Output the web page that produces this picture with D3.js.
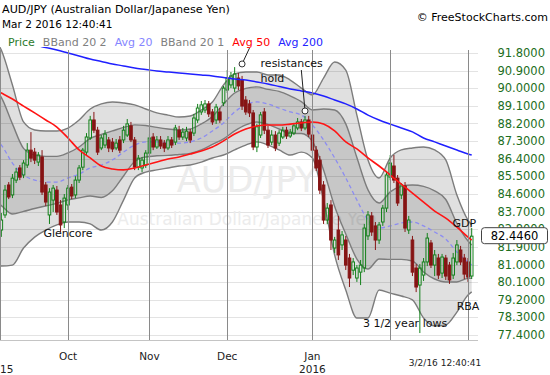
<!DOCTYPE html>
<html>
<head>
<meta charset="utf-8">
<script src="https://cdnjs.cloudflare.com/ajax/libs/d3/7.8.5/d3.min.js"></script>
<style>
  body { margin: 0; background: #fff; }
  svg { display: block; font-family: "DejaVu Sans", Verdana, sans-serif; }
</style>
</head>
<body>
<div id="chart"></div>
<script>
/* AUD/JPY daily candles, Bollinger bands and moving averages */

// First and last trading sessions on the chart
const firstSession = "2015-09-01";
const lastSession = "2016-03-02";
const firstCandle = "2015-09-07";

// Daily candles from Sep 7 2015 to Mar 2 2016
const opens = [
  82.76, 83.53, 85.06, 84.55, 85.31, 85.93, 85.57, 86.08, 86.84, 86.74,
  86.23, 86.49, 85.06, 83.53, 84.29, 84.80, 84.04, 83.17, 84.04, 84.95,
  84.55, 85.31, 85.97, 86.74, 87.46, 88.38, 87.86, 86.95, 87.10, 87.36,
  87.25, 86.95, 87.36, 87.36, 87.61, 88.08, 87.36, 85.97, 85.93, 86.08,
  86.69, 87.51, 87.00, 87.36, 87.20, 86.95, 87.36, 87.25, 87.86, 87.51,
  87.46, 87.76, 87.71, 88.38, 88.79, 88.89, 89.20, 88.79, 88.38, 88.79,
  89.25, 89.91, 90.17, 90.01, 90.52, 90.42, 89.40, 89.20, 88.74, 87.00,
  87.61, 88.79, 87.86, 87.25, 87.61, 87.20, 87.51, 87.86, 87.56, 87.71,
  87.97, 88.28, 87.97, 88.38, 87.61, 86.84, 86.33, 85.06, 83.27, 84.04,
  81.84, 82.76, 82.00, 82.25, 81.33, 80.71, 80.31, 80.61, 80.82, 82.46,
  83.48, 82.97, 82.25, 83.17, 83.88, 85.46, 86.03, 85.41, 84.55, 85.01,
  82.76, 82.25, 80.82, 79.95, 80.46, 81.13, 82.10, 80.97, 81.33, 80.56,
  81.33, 80.97, 80.46, 81.13, 81.74, 81.33, 81.13, 80.41
];
const highs = [
  83.63, 85.06, 85.21, 85.62, 85.93, 86.08, 86.33, 87.20, 87.76, 86.95,
  86.74, 86.84, 85.21, 84.90, 85.06, 85.01, 84.29, 84.60, 85.06, 85.11,
  85.51, 86.08, 86.95, 87.71, 88.59, 88.79, 88.03, 87.61, 87.86, 87.51,
  87.46, 87.41, 87.56, 88.08, 88.43, 88.28, 87.51, 86.59, 86.49, 86.84,
  87.66, 87.71, 87.56, 87.56, 87.36, 87.56, 87.51, 88.13, 88.08, 87.97,
  88.03, 87.92, 88.69, 89.20, 89.35, 89.40, 89.35, 88.94, 89.20, 88.99,
  90.12, 90.93, 90.83, 91.08, 90.78, 90.63, 89.60, 89.40, 88.89, 88.18,
  88.79, 88.99, 88.08, 87.86, 87.81, 87.86, 88.03, 88.03, 87.92, 88.23,
  88.48, 88.43, 88.59, 88.59, 87.81, 87.05, 86.54, 85.26, 84.14, 84.29,
  82.41, 83.48, 82.71, 82.46, 81.54, 81.33, 80.97, 81.23, 83.07, 83.73,
  83.68, 83.17, 83.17, 84.04, 85.77, 86.59, 86.59, 85.57, 85.16, 85.21,
  83.48, 82.46, 81.02, 81.02, 81.33, 82.61, 82.25, 81.74, 81.54, 81.54,
  81.49, 81.13, 81.59, 82.25, 81.95, 81.54, 81.33, 82.86
];
const lows = [
  82.41, 83.38, 84.34, 84.39, 85.16, 85.31, 85.41, 85.93, 86.23, 86.13,
  86.03, 84.55, 83.99, 83.07, 83.68, 83.53, 82.66, 82.86, 83.78, 84.34,
  84.39, 85.16, 85.82, 86.59, 87.36, 87.71, 86.59, 86.84, 86.95, 86.74,
  86.74, 86.84, 86.69, 87.20, 87.51, 87.25, 85.82, 85.82, 85.72, 85.93,
  86.54, 86.84, 86.90, 86.90, 86.74, 86.84, 86.95, 87.10, 87.36, 87.36,
  87.30, 87.20, 87.56, 88.23, 88.64, 88.74, 88.53, 88.13, 88.18, 88.23,
  89.09, 89.76, 90.01, 89.81, 89.91, 88.89, 88.64, 88.53, 86.84, 86.74,
  87.46, 87.66, 86.95, 87.10, 86.79, 87.05, 87.41, 87.41, 87.46, 87.61,
  87.86, 87.81, 87.86, 87.51, 86.69, 85.77, 84.60, 83.07, 83.07, 81.74,
  81.59, 81.23, 81.74, 80.72, 79.85, 80.46, 80.11, 79.95, 80.61, 82.25,
  82.46, 81.74, 82.05, 82.97, 83.68, 85.31, 85.16, 83.99, 84.34, 82.66,
  82.56, 80.41, 79.59, 77.50, 80.16, 80.92, 80.82, 80.41, 80.26, 80.31,
  80.21, 80.01, 80.26, 80.97, 80.97, 80.26, 80.11, 80.26
];
const closes = [
  83.27, 84.80, 84.45, 85.41, 85.72, 85.46, 86.18, 86.84, 86.43, 86.33,
  86.59, 84.70, 84.19, 84.70, 84.90, 83.68, 83.02, 84.39, 84.90, 84.50,
  85.31, 85.93, 86.84, 87.51, 88.38, 87.86, 86.74, 87.46, 87.66, 86.95,
  86.90, 87.20, 86.84, 87.86, 88.18, 87.36, 85.97, 86.43, 86.33, 86.69,
  87.46, 87.00, 87.36, 87.05, 86.95, 87.36, 87.10, 87.97, 87.51, 87.76,
  87.81, 87.36, 88.48, 88.99, 89.15, 89.20, 88.69, 88.28, 89.04, 88.38,
  90.01, 90.52, 90.63, 90.73, 90.12, 89.09, 88.79, 88.74, 87.00, 88.03,
  88.64, 87.86, 87.10, 87.61, 86.95, 87.71, 87.86, 87.56, 87.76, 88.08,
  88.28, 87.97, 88.38, 87.66, 86.84, 85.93, 84.80, 83.27, 83.88, 82.25,
  82.25, 81.49, 82.51, 80.97, 80.31, 81.13, 80.82, 80.97, 82.86, 83.53,
  82.66, 82.25, 83.02, 83.88, 85.57, 86.18, 85.31, 84.14, 85.06, 82.86,
  83.27, 80.61, 79.85, 80.82, 81.13, 82.35, 80.97, 81.49, 80.46, 81.38,
  80.41, 80.21, 81.33, 82.00, 81.13, 80.51, 80.36, 82.446
];

// Indicator readings, sampled every third session
const bandDates = [
  "2015-09-02", "2015-09-07", "2015-09-10", "2015-09-15", "2015-09-18", "2015-09-23", "2015-09-28",
  "2015-10-01", "2015-10-06", "2015-10-09", "2015-10-14", "2015-10-19", "2015-10-22", "2015-10-27", "2015-10-30",
  "2015-11-04", "2015-11-09", "2015-11-12", "2015-11-17", "2015-11-20", "2015-11-25", "2015-11-30",
  "2015-12-03", "2015-12-08", "2015-12-11", "2015-12-16", "2015-12-21", "2015-12-24", "2015-12-29",
  "2016-01-01", "2016-01-06", "2016-01-11", "2016-01-14", "2016-01-19", "2016-01-22", "2016-01-27",
  "2016-02-01", "2016-02-04", "2016-02-09", "2016-02-12", "2016-02-17", "2016-02-22", "2016-02-25",
  "2016-03-01", "2016-03-02"
];
const avg200 = [
  92.72, 92.62, 92.46, 92.31, 92.21, 92.08, 91.95,
  91.80, 91.65, 91.49, 91.37, 91.24, 91.14, 91.03, 90.96,
  90.88, 90.83, 90.78, 90.73, 90.68, 90.63, 90.55,
  90.47, 90.42, 90.32, 90.22, 90.09, 89.96, 89.86,
  89.76, 89.60, 89.40, 89.20, 88.94, 88.63, 88.38,
  88.17, 87.97, 87.77, 87.46, 87.26, 87.05, 86.85,
  86.64, 86.59
];
const avg50 = [
  90.06, 89.76, 89.45, 89.09, 88.74, 88.38, 88.02,
  87.46, 86.85, 86.44, 86.03, 85.88, 85.83, 85.93, 86.08,
  86.23, 86.39, 86.49, 86.64, 86.80, 87.00, 87.31,
  87.66, 87.92, 88.07, 88.12, 88.12, 88.17, 88.23,
  88.28, 88.17, 87.82, 87.26, 86.90, 86.44, 86.03,
  85.57, 85.11, 84.65, 84.19, 83.73, 83.37, 82.91,
  82.40, 82.25
];
const avg20 = [
  87.61, 87.10, 86.18, 85.57, 85.31, 85.21, 85.21,
  85.42, 85.62, 85.93, 86.08, 86.34, 86.74, 87.10, 87.26,
  87.26, 87.20, 87.20, 87.26, 87.46, 87.82, 88.23,
  88.79, 89.15, 89.30, 89.20, 88.99, 88.79, 88.63,
  88.12, 87.36, 86.44, 85.42, 84.29, 83.27, 82.86,
  82.97, 83.12, 83.17, 82.97, 82.66, 82.30, 81.64,
  81.13, 80.97
];
const bb2Upper = [
  92.72, 91.95, 90.17, 88.28, 87.87, 87.82, 87.82,
  87.97, 88.38, 88.94, 89.20, 89.30, 89.25, 89.15, 88.94,
  88.74, 88.63, 88.53, 88.58, 88.89, 89.30, 90.17,
  90.73, 90.83, 90.83, 90.68, 90.68, 90.42, 90.01,
  89.66, 90.52, 91.34, 90.93, 88.63, 86.34, 85.42,
  86.44, 86.85, 86.95, 87.00, 86.85, 86.34, 84.55,
  83.27, 83.02
];
const bb2Lower = [
  81.13, 80.92, 80.97, 81.84, 82.40, 82.76, 83.02,
  83.17, 83.17, 83.07, 82.76, 83.17, 84.29, 85.42, 85.72,
  85.83, 85.93, 86.03, 86.08, 86.23, 86.44, 86.59,
  86.85, 87.10, 87.26, 87.10, 86.85, 86.59, 86.74,
  86.44, 84.29, 81.48, 79.70, 78.27, 78.27, 79.70,
  79.54, 79.39, 79.19, 78.27, 77.86, 77.91, 78.57,
  79.44, 79.60
];
const bb1Upper = [
  90.17, 89.53, 88.18, 86.93, 86.59, 86.52, 86.52,
  86.70, 87.00, 87.44, 87.64, 87.82, 88.00, 88.13, 88.10,
  88.00, 87.92, 87.87, 87.92, 88.18, 88.56, 89.20,
  89.76, 89.99, 90.07, 89.94, 89.84, 89.61, 89.32,
  88.89, 88.94, 88.89, 88.18, 86.46, 84.81, 84.14,
  84.71, 84.99, 85.06, 84.99, 84.76, 84.32, 83.10,
  82.20, 82.00
];
const bb1Lower = [
  84.37, 84.01, 83.58, 83.71, 83.86, 83.99, 84.12,
  84.30, 84.40, 84.50, 84.42, 84.76, 85.52, 86.26, 86.49,
  86.55, 86.57, 86.62, 86.67, 86.85, 87.13, 87.41,
  87.82, 88.13, 88.28, 88.15, 87.92, 87.69, 87.69,
  87.28, 85.83, 83.96, 82.56, 81.28, 80.77, 81.28,
  81.26, 81.26, 81.18, 80.62, 80.26, 80.11, 80.11,
  80.29, 80.29
];

// Axis ticks and labels
const priceTicks = [91.8, 90.9, 90.0, 89.1, 88.2, 87.3, 86.4, 85.5, 84.6, 83.7, 82.8, 81.9, 81.0, 80.1, 79.2, 78.3, 77.4];
const monthStarts = ["2015-10-01", "2015-11-02", "2015-12-01", "2016-01-01", "2016-02-01", "2016-03-01"];
const monthLabels = ["Oct", "Nov", "Dec", "Jan", "", ""];
const yearLabels = ["", "", "", "2016", "", ""];

const legendItems = ["Price", "BBand 20 2", "Avg 20", "BBand 20 1", "Avg 50", "Avg 200"];
const legendColors = ["#2b7a2b", "#808080", "#8585ff", "#808080", "#ff0000", "#2323ff"];

// Chart notes: text, session, price level
const notes = [
  {text: "Glencore", date: "2015-10-01", price: 82.40, anchor: "middle"},
  {text: "resistances", date: "2015-12-14", price: 91.08, anchor: "start"},
  {text: "hold", date: "2015-12-14", price: 90.32, anchor: "start"},
  {text: "GDP", date: "2016-02-29", price: 82.91, anchor: "middle"},
  {text: "RBA", date: "2016-03-01", price: 78.67, anchor: "middle"},
  {text: "3 1/2 year lows", date: "2016-02-05", price: 77.81, anchor: "middle"}
];
const pointers = [
  {from: ["2015-12-09", 92.05], to: ["2015-12-07", 91.24]},
  {from: ["2015-12-29", 90.93], to: ["2015-12-30", 88.84]}
];

const width = 550;
const height = 375;
const plot = {left: 0, right: 478, top: 47, bottom: 340};

const parse = d3.timeParse("%Y-%m-%d");
const fmt = d3.timeFormat("%Y-%m-%d");
const sessions = d3.timeDay.range(parse(firstSession), d3.timeDay.offset(parse(lastSession), 1))
  .filter(d => d.getDay() !== 0 && d.getDay() !== 6);
const sessionIndex = new Map(sessions.map((d, i) => [fmt(d), i]));
const idx = s => sessionIndex.get(s);

const x = d3.scaleLinear()
  .domain([0, sessions.length - 1])
  .range([-13.5, 471.7]);
const y = d3.scaleLinear()
  .domain([77.4, 91.8])
  .range([335, 53]);

const svg = d3.select("#chart")
  .append("svg")
  .attr("width", width)
  .attr("height", height);

svg.append("defs").append("clipPath")
  .attr("id", "plot-clip")
  .append("rect")
  .attr("x", plot.left)
  .attr("y", plot.top)
  .attr("width", plot.right - plot.left)
  .attr("height", plot.bottom - plot.top);

// Horizontal grid
svg.append("g").selectAll("line").data(priceTicks).join("line")
  .attr("x1", plot.left).attr("x2", plot.right)
  .attr("y1", d => Math.round(y(d)) + 0.5)
  .attr("y2", d => Math.round(y(d)) + 0.5)
  .attr("stroke", "#e3e3e3");

// Watermark
svg.append("text")
  .text("AUD/JPY")
  .attr("x", 247).attr("y", 192)
  .attr("text-anchor", "middle")
  .style("font-size", "35px")
  .attr("fill", "#ececec");
svg.append("text")
  .text("Australian Dollar/Japanese Yen")
  .attr("x", 247).attr("y", 225)
  .attr("text-anchor", "middle")
  .style("font-size", "17px")
  .attr("fill", "#ececec");

const g = svg.append("g").attr("clip-path", "url(#plot-clip)");

const bands = bandDates.map((d, i) => ({
  i: idx(d),
  ou: bb2Upper[i], ol: bb2Lower[i],
  iu: bb1Upper[i], il: bb1Lower[i],
  a20: avg20[i], a50: avg50[i], a200: avg200[i]
}));
const curve = d3.curveMonotoneX;

// Bollinger band fills
g.append("path").datum(bands)
  .attr("d", d3.area().x(d => x(d.i)).y0(d => y(d.ol)).y1(d => y(d.ou)).curve(curve))
  .attr("fill", "#000").attr("fill-opacity", 0.12);
g.append("path").datum(bands)
  .attr("d", d3.area().x(d => x(d.i)).y0(d => y(d.il)).y1(d => y(d.iu)).curve(curve))
  .attr("fill", "#000").attr("fill-opacity", 0.11);

// Band edges
["ou", "ol", "iu", "il"].forEach(key => {
  g.append("path").datum(bands)
    .attr("d", d3.line().x(d => x(d.i)).y(d => y(d[key])).curve(curve))
    .attr("fill", "none")
    .attr("stroke", "#7c7c7c")
    .attr("stroke-width", 1.4);
});

// Month separators
svg.append("g").selectAll("line").data(monthStarts).join("line")
  .attr("x1", d => Math.round(x(idx(d))) + 0.5)
  .attr("x2", d => Math.round(x(idx(d))) + 0.5)
  .attr("y1", plot.top + 3).attr("y2", plot.bottom)
  .attr("stroke", "#8a8a8a");
svg.append("line")
  .attr("x1", 0.5).attr("x2", 0.5)
  .attr("y1", plot.top + 3).attr("y2", plot.bottom)
  .attr("stroke", "#8a8a8a");
svg.append("line")
  .attr("x1", plot.left).attr("x2", plot.right)
  .attr("y1", plot.bottom + 0.5).attr("y2", plot.bottom + 0.5)
  .attr("stroke", "#c4c4c4");

// Avg 20
g.append("path").datum(bands)
  .attr("d", d3.line().x(d => x(d.i)).y(d => y(d.a20)).curve(curve))
  .attr("fill", "none")
  .attr("stroke", "#8c8cf2")
  .attr("stroke-width", 1.3)
  .attr("stroke-dasharray", "4,3");

// Candles
const start = idx(firstCandle);
const candles = closes.map((c, k) => ({
  i: start + k, o: opens[k], h: highs[k], l: lows[k], c: c, up: c >= opens[k]
}));
const bodyW = 2.6;
const green = "#13801a";
const red = "#861414";

const cg = g.append("g").selectAll("g").data(candles).join("g");
cg.append("line")
  .attr("x1", d => x(d.i)).attr("x2", d => x(d.i))
  .attr("y1", d => y(d.h)).attr("y2", d => y(Math.max(d.o, d.c)))
  .attr("stroke", d => d.up ? green : red);
cg.append("line")
  .attr("x1", d => x(d.i)).attr("x2", d => x(d.i))
  .attr("y1", d => y(Math.min(d.o, d.c))).attr("y2", d => y(d.l))
  .attr("stroke", d => d.up ? green : red);
cg.append("rect")
  .attr("x", d => x(d.i) - bodyW / 2)
  .attr("width", bodyW)
  .attr("y", d => y(Math.max(d.o, d.c)))
  .attr("height", d => Math.max(1, y(Math.min(d.o, d.c)) - y(Math.max(d.o, d.c))))
  .attr("fill", d => d.up ? "none" : red)
  .attr("stroke", d => d.up ? green : red)
  .attr("stroke-width", 1);

// Avg 50 and Avg 200
g.append("path").datum(bands)
  .attr("d", d3.line().x(d => x(d.i)).y(d => y(d.a50)).curve(curve))
  .attr("fill", "none")
  .attr("stroke", "#ff1414")
  .attr("stroke-width", 1.6);
g.append("path").datum(bands)
  .attr("d", d3.line().x(d => x(d.i)).y(d => y(d.a200)).curve(curve))
  .attr("fill", "none")
  .attr("stroke", "#2020ff")
  .attr("stroke-width", 1.5);

// Price axis on the right
svg.append("g").selectAll("text").data(priceTicks).join("text")
  .text(d => d3.format(".4f")(d))
  .attr("x", 545)
  .attr("y", d => y(d) + 4)
  .attr("text-anchor", "end")
  .style("font-size", "11.5px")
  .attr("fill", "#1d6e1d");

// Last price tag
const last = closes[closes.length - 1];
svg.append("rect")
  .attr("x", 481.5).attr("y", y(last) - 8.5)
  .attr("width", 66).attr("height", 16)
  .attr("rx", 3)
  .attr("fill", "#fff")
  .attr("stroke", "#444");
svg.append("text")
  .text(d3.format(".4f")(last))
  .attr("x", 514.5).attr("y", y(last) + 4)
  .attr("text-anchor", "middle")
  .style("font-size", "11.5px")
  .attr("fill", "#000");

// Time axis labels
const timeLabels = svg.append("g").style("font-size", "10.5px").attr("fill", "#222");
monthStarts.forEach((d, k) => {
  timeLabels.append("text").text(monthLabels[k])
    .attr("x", x(idx(d))).attr("y", 360).attr("text-anchor", "middle");
  timeLabels.append("text").text(yearLabels[k])
    .attr("x", x(idx(d))).attr("y", 373).attr("text-anchor", "middle");
});
timeLabels.append("text").text("2015")
  .attr("x", plot.left).attr("y", 373).attr("text-anchor", "middle");
svg.append("text")
  .text("3/2/16 12:40:41")
  .attr("x", 445).attr("y", 366)
  .attr("text-anchor", "middle")
  .style("font-size", "9px")
  .attr("fill", "#222");

// Header
svg.append("text")
  .text("AUD/JPY (Australian Dollar/Japanese Yen)")
  .attr("x", 2).attr("y", 13)
  .style("font-size", "11.2px");
svg.append("text")
  .text("Mar 2 2016 12:40:41")
  .attr("x", 2).attr("y", 28)
  .style("font-size", "10.5px");
svg.append("text")
  .text("\u00a9 FreeStockCharts.com")
  .attr("x", 548).attr("y", 21)
  .attr("text-anchor", "end")
  .style("font-size", "11px");

// Legend
let lx = 8;
legendItems.forEach((name, k) => {
  const t = svg.append("text")
    .text(name)
    .attr("x", lx).attr("y", 46)
    .style("font-size", "11px")
    .attr("fill", legendColors[k]);
  lx += t.node().getComputedTextLength() + 8;
});

// Notes and pointers
svg.append("g").selectAll("text").data(notes).join("text")
  .text(d => d.text)
  .attr("x", d => x(idx(d.date)))
  .attr("y", d => y(d.price))
  .attr("text-anchor", d => d.anchor)
  .style("font-size", "11px")
  .attr("fill", "#111");
pointers.forEach(p => {
  svg.append("line")
    .attr("x1", x(idx(p.from[0]))).attr("y1", y(p.from[1]))
    .attr("x2", x(idx(p.to[0]))).attr("y2", y(p.to[1]))
    .attr("stroke", "#222");
  svg.append("circle")
    .attr("cx", x(idx(p.to[0]))).attr("cy", y(p.to[1]))
    .attr("r", 3)
    .attr("fill", "#fff")
    .attr("stroke", "#333");
});
</script>
</body>
</html>
